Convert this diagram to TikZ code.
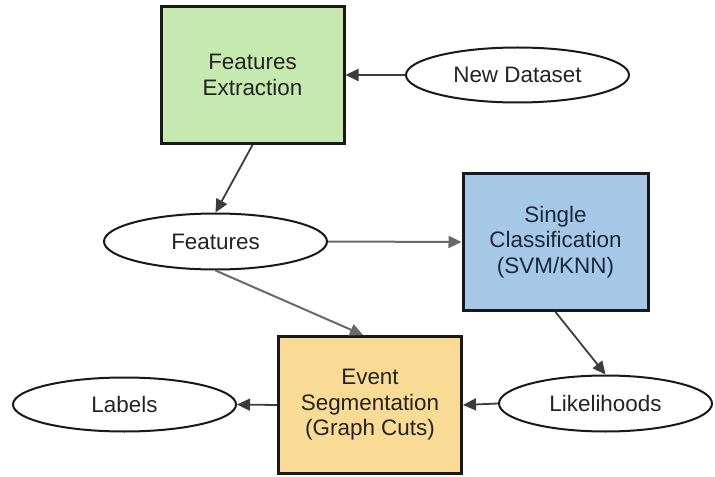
\documentclass[tikz,border=0pt]{standalone}
\usepackage{fontspec}
\setmainfont{Liberation Sans}
\usetikzlibrary{shapes.geometric,arrows.meta}

\definecolor{boxgreen}{RGB}{198,233,176}
\definecolor{boxblue}{RGB}{166,199,229}
\definecolor{boxyellow}{RGB}{250,219,150}
\definecolor{edgedark}{RGB}{25,25,25}
\definecolor{textdark}{RGB}{35,35,35}
\definecolor{textnavy}{RGB}{25,40,65}
\definecolor{linegray}{RGB}{105,105,105}

\tikzset{
  procbox/.style={rectangle, draw=edgedark, line width=3bp, minimum width=183bp,
    minimum height=137bp, align=center, text=textdark, inner sep=0pt,
    font=\fontsize{22.5}{25.5}\selectfont},
  dataell/.style={ellipse, draw=edgedark, line width=2bp, fill=white,
    inner sep=0pt, text=textdark, font=\fontsize{22.5}{25.5}\selectfont},
  flow/.style={draw=edgedark!85, line width=1.8bp,
    -{Triangle[length=13bp,width=12bp]}},
  flowgray/.style={flow, draw=linegray, line width=2bp}
}

\begin{document}
\begin{tikzpicture}[x=1bp,y=-1bp]
  \useasboundingbox (0,0) rectangle (715,477);

  % process boxes
  \node[procbox, fill=boxgreen] (extract) at (252.5,75) {Features\\Extraction};
  \node[procbox, fill=boxblue, text=textnavy, minimum width=185bp] (classify) at (555.5,242)
    {Single\\Classification\\(SVM/KNN)};
  \node[procbox, fill=boxyellow] (segment) at (370,405)
    {Event\\Segmentation\\(Graph Cuts)};

  % data ellipses
  \node[dataell, minimum width=223bp, minimum height=55bp] (newdata) at (517.5,75) {New Dataset};
  \node[dataell, minimum width=223bp, minimum height=56bp] (features) at (215.5,241.5) {Features};
  \node[dataell, minimum width=213bp, minimum height=56bp] (likeli) at (605.5,403.5) {Likelihoods};
  \node[dataell, minimum width=223bp, minimum height=54bp] (labels) at (124.5,404.5) {Labels};

  % connectors
  \draw[flow] (newdata.west) -- (extract.east);
  \draw[flow] (extract.south) -- (features.north);
  \draw[flowgray] (features.east) -- (classify.west);
  \draw[flowgray] (features.south) -- ([xshift=-7bp]segment.north);
  \draw[flow] (classify.south) -- (likeli.north);
  \draw[flow] (likeli.west) -- (segment.east);
  \draw[flow] (segment.west) -- (labels.east);
\end{tikzpicture}
\end{document}
